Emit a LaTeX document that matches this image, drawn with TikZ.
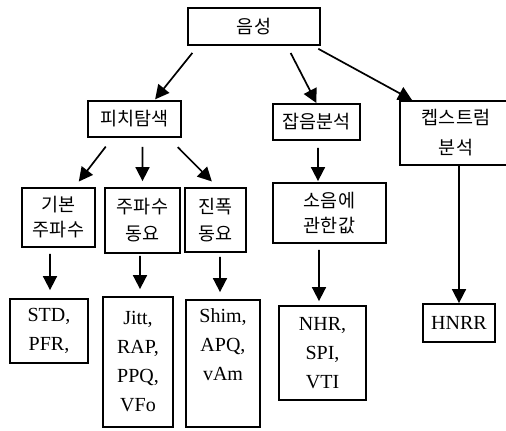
\documentclass[tikz,border=0pt]{standalone}
\usepackage{fontspec}
\setmainfont{Liberation Serif}
\newfontfamily\kr{Noto Sans CJK KR}
\usetikzlibrary{arrows.meta}
\begin{document}
\begin{tikzpicture}[x=1bp,y=-1bp,
  bx/.style={draw, line width=1.8bp, inner sep=0pt, align=center},
  kbox/.style={bx, font=\kr\fontsize{18.5bp}{27bp}\selectfont},
  lbox/.style={bx, font=\fontsize{20bp}{29bp}\selectfont},
  arr/.style={line width=1.7bp, -{Triangle[length=14bp,width=14bp]}}]
\useasboundingbox (0,0) rectangle (506,430);
% level 0
\node[kbox, minimum width=132bp, minimum height=37bp] (eum) at (254,26.5) {음성};
% level 1
\node[kbox, minimum width=93bp, minimum height=36bp] (pitch) at (134.5,119) {피치탐색};
\node[kbox, minimum width=87bp, minimum height=36bp] (noise) at (316.5,122) {잡음분석};
\node[kbox, minimum width=112bp, minimum height=64bp, font=\kr\fontsize{18.5bp}{30bp}\selectfont] (cep) at (456,133) {켑스트럼\\분석};
% level 2
\node[kbox, minimum width=73bp, minimum height=59bp, font=\kr\fontsize{18.5bp}{25bp}\selectfont] (f0) at (58.5,217.5) {기본\\주파수};
\node[kbox, minimum width=75bp, minimum height=65bp] (fq) at (142.5,220.5) {주파수\\동요};
\node[kbox, minimum width=61bp, minimum height=64bp] (amp) at (215.5,220) {진폭\\동요};
\node[kbox, minimum width=113bp, minimum height=60bp, font=\kr\fontsize{18.5bp}{25bp}\selectfont] (snd) at (329.5,213) {소음에\\관한값};
% level 3
\node[lbox, minimum width=78bp, minimum height=64bp] (std) at (49,331) {STD,\\PFR,};
\node[lbox, minimum width=70bp, minimum height=130bp] (jitt) at (138,362) {Jitt,\\RAP,\\PPQ,\\VFo};
\node[lbox, minimum width=74bp, minimum height=127bp] (shim) at (223,363.5) {Shim,\\APQ,\\vAm\\\strut};
\node[lbox, minimum width=87bp, minimum height=94bp] (nhr) at (322.5,353) {NHR,\\SPI,\\VTI};
\node[lbox, minimum width=72bp, minimum height=38bp] (hnrr) at (459,323) {HNRR};
% connectors
\draw[arr, shorten <=9bp, shorten >=1bp] ([xshift=-56bp]eum.south) -- ([xshift=20bp]pitch.north);
\draw[arr, shorten <=8bp] ([xshift=33bp]eum.south) -- (noise.north);
\draw[arr, shorten <=6bp] ([xshift=59bp]eum.south) -- ([xshift=13bp]cep.north west);
\draw[arr, shorten <=11bp, shorten >=7bp] ([xshift=-22bp]pitch.south) -- ([xshift=16bp]f0.north);
\draw[arr, shorten <=9bp, shorten >=6bp] ([xshift=8bp]pitch.south) -- (fq.north);
\draw[arr, shorten <=13bp, shorten >=8bp] ([xshift=34bp]pitch.south) -- ([xshift=2bp]amp.north);
\draw[arr, shorten <=6bp, shorten >=8bp] ([xshift=-8.5bp]f0.south) -- ([xshift=1bp]std.north);
\draw[arr, shorten <=2bp, shorten >=7bp] ([xshift=-2.5bp]fq.south) -- ([xshift=2bp]jitt.north);
\draw[arr, shorten <=4bp, shorten >=7bp] ([xshift=4.5bp]amp.south) -- ([xshift=-3bp]shim.north);
\draw[arr, shorten <=7bp, shorten >=1bp] ([xshift=1.5bp]noise.south) -- ([xshift=-11.5bp]snd.north);
\draw[arr, shorten <=6bp, shorten >=4bp] ([xshift=-10.5bp]snd.south) -- ([xshift=-3.5bp]nhr.north);
\draw[arr] ([xshift=3bp]cep.south) -- (hnrr.north);
\end{tikzpicture}
\end{document}
